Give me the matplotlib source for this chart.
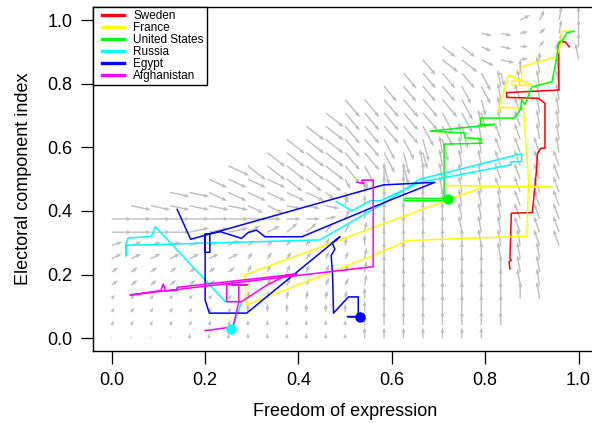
import numpy as np
import matplotlib
matplotlib.use('Agg')
import matplotlib.pyplot as plt
from matplotlib.lines import Line2D
from matplotlib.legend_handler import HandlerLine2D

plt.rcParams['font.family'] = ['Liberation Sans', 'DejaVu Sans']

countries = ['Sweden', 'France', 'United States', 'Russia', 'Egypt', 'Afghanistan']
colors = ['#ff0000', '#ffff00', '#00ff00', '#00ffff', '#0000ff', '#ff00ff']

# country paths (freedom of expression, electoral component)
sweden_x = [0.853, 0.851, 0.856, 0.853, 0.856, 0.901, 0.910, 0.912, 0.919, 0.928, 0.928, 0.914, 0.846, 0.846, 0.958, 0.957, 0.971, 0.980]
sweden_y = [0.218, 0.240, 0.245, 0.250, 0.393, 0.395, 0.529, 0.580, 0.597, 0.597, 0.738, 0.754, 0.757, 0.772, 0.780, 0.929, 0.932, 0.916]

france_x = [0.718, 0.943, 0.796, 0.285, 0.289, 0.553, 0.633, 0.889, 0.893, 0.882, 0.830, 0.826, 0.850, 0.878, 0.857, 0.857, 0.900, 0.878, 0.878, 0.953, 0.963, 0.963, 0.985]
france_y = [0.480, 0.476, 0.476, 0.199, 0.105, 0.256, 0.307, 0.321, 0.497, 0.723, 0.726, 0.710, 0.827, 0.808, 0.808, 0.795, 0.795, 0.810, 0.853, 0.885, 0.930, 0.965, 0.965]

usa_x = [0.721, 0.628, 0.628, 0.712, 0.712, 0.793, 0.790, 0.757, 0.757, 0.682, 0.820, 0.790, 0.790, 0.862, 0.876, 0.878, 0.885, 0.900, 0.943, 0.953, 0.957, 0.965, 0.975, 0.990]
usa_y = [0.439, 0.440, 0.432, 0.432, 0.610, 0.613, 0.627, 0.630, 0.645, 0.651, 0.672, 0.672, 0.692, 0.692, 0.720, 0.750, 0.735, 0.790, 0.806, 0.880, 0.930, 0.935, 0.960, 0.965]

russia_x = [0.255, 0.265, 0.278, 0.243, 0.093, 0.085, 0.035, 0.030, 0.030, 0.032, 0.446, 0.589, 0.660, 0.878, 0.878, 0.855, 0.855, 0.660, 0.575, 0.553, 0.514, 0.482]
russia_y = [0.028, 0.060, 0.115, 0.115, 0.351, 0.320, 0.315, 0.295, 0.258, 0.292, 0.309, 0.430, 0.500, 0.580, 0.555, 0.555, 0.545, 0.490, 0.432, 0.432, 0.400, 0.429]

egypt_x = [0.532, 0.505, 0.528, 0.528, 0.507, 0.475, 0.473, 0.470, 0.478, 0.472, 0.489, 0.289, 0.209, 0.200, 0.200, 0.210, 0.210, 0.200, 0.200, 0.232, 0.278, 0.292, 0.310, 0.328, 0.407, 0.596, 0.692, 0.582, 0.169, 0.140]
egypt_y = [0.068, 0.068, 0.068, 0.130, 0.130, 0.079, 0.200, 0.260, 0.280, 0.300, 0.319, 0.079, 0.079, 0.120, 0.328, 0.328, 0.270, 0.270, 0.326, 0.335, 0.314, 0.332, 0.340, 0.319, 0.319, 0.434, 0.490, 0.482, 0.311, 0.405]

afghan_x = [0.200, 0.260, 0.272, 0.272, 0.256, 0.290, 0.272, 0.246, 0.246, 0.278, 0.332, 0.375, 0.396, 0.140, 0.140, 0.115, 0.110, 0.105, 0.039, 0.560, 0.560, 0.535, 0.540, 0.525]
afghan_y = [0.024, 0.036, 0.115, 0.168, 0.168, 0.168, 0.168, 0.170, 0.115, 0.115, 0.167, 0.199, 0.202, 0.160, 0.150, 0.150, 0.170, 0.150, 0.136, 0.225, 0.497, 0.497, 0.486, 0.490]

paths_x = [sweden_x, france_x, usa_x, russia_x, egypt_x, afghan_x]
paths_y = [sweden_y, france_y, usa_y, russia_y, egypt_y, afghan_y]
dot_countries = ['United States', 'Russia', 'Egypt']

# vector field on a 25 x 25 grid, rows from top (y = 1) to bottom (y = 0).
# run-length strings: "21.mkKN" = 21 empty cells then m, k, K, N
# angle letters are screen directions in degrees, length letters are pixels
angle_codes = {'E': 0, 'e': -12, 's': -25, 'S': -38, 'D': -50, 'V': -62, 'v': -75,
               'n': 12, 'p': 19, 'm': 27, 'z': 35, 'q': 41, 'y': 47, 'Q': 55,
               'k': 65, 'K': 80, 'N': 90, 'l': 100, 'L': 110}
length_codes = {'a': 2, 'b': 5, 'c': 8, 'd': 11, 'e': 14, 'f': 17, 'g': 20, 'h': 23}
field_angle = [
    '21.mkKN',
    '19.eenqKN',
    '17.SSseEQKN',
    '16.DSSsenNll',
    '15.4DVvN2l.',
    '14.4D2V4l.',
    '12.6DVvlL2l.',
    '11.S5D2VvlL2l.',
    '10.2S4D2Vv2lL2l.',
    '9.3S2D2V2v2l2L2l.',
    '8.4S2DV2v3l3Ll.',
    '6.s5SDV2v4l4L.',
    '5.4s3SVv3N3l4L.',
    '3.2e6sSv4N3l4L.',
    '.6e2s3eK5N3l3L.',
    '11EnkK4N3l3L.',
    '4E3n2m2qQkK4N3l3L.',
    '6pm2q2QkK6N3l2L.',
    '7m4Q2kK6N3l2.',
    '7z6kK7N2l2.',
    '7q6kK7N2l2.',
    '7y6K9Nl2.',
    '7Q14N4.',
    '7k14N4.',
    '20N5.',
]
field_length = [
    '21.2d2e',
    '19.2d2c2e',
    '17.2f2d2c2e',
    '16.3g2e2c2f',
    '15.5g2e2f.',
    '14.6g4f.',
    '12.7h5f.',
    '11.8h5f.',
    '10.9h5f.',
    '9.9h6f.',
    '8.8h8f.',
    '6.7h3g8f.',
    '5.7g2d10f.',
    '3.8g3d10f.',
    '.6g2f3e2d10f.',
    '8g3e3d10f.',
    '7g4e3d10f.',
    '7d6cd10f.',
    '7d6cd9f2.',
    '13cd9f2.',
    '7c6cd9f2.',
    '7b6cd9f2.',
    '7b6cd7f4.',
    '7b6bd7e4.',
    '4a9b7d5.',
]


def expand(s):
    out, n = '', ''
    for ch in s:
        if ch.isdigit():
            n += ch
        else:
            out += ch * int(n or 1)
            n = ''
    return (out + '.' * 25)[:25]


fig = plt.figure(figsize=(5.92, 4.23), dpi=100)
ax = fig.add_axes([0.1573, 0.1702, 0.8515, 0.8125])
ax.set_xlim(-0.04, 1.04)
ax.set_ylim(-0.04, 1.04)

px_x = 0.8515 * 592 / 1.08
px_y = 0.8125 * 423 / 1.08
gx, gy, gu, gv = [], [], [], []
for r, (arow, lrow) in enumerate(zip(field_angle, field_length)):
    arow, lrow = expand(arow), expand(lrow)
    j = 24 - r
    for i in range(25):
        if arow[i] == '.' or lrow[i] == '.':
            continue
        a = np.radians(angle_codes[arow[i]])
        L = length_codes[lrow[i]]
        gx.append(i / 24)
        gy.append(j / 24)
        gu.append(L * np.cos(a) / px_x)
        gv.append(L * np.sin(a) / px_y)
ax.quiver(gx, gy, gu, gv, angles='xy', scale_units='xy', scale=1, color='#bebebe',
          units='dots', width=1.4, headwidth=3, headlength=4, headaxislength=3.5, zorder=1)

for name, c, xs, ys in zip(countries, colors, paths_x, paths_y):
    ax.plot(xs, ys, color=c, lw=1.1, zorder=3)
    if name in dot_countries:
        ax.plot(xs[0], ys[0], 'o', color=c, ms=6.5, zorder=4)

ticks = [0, 0.2, 0.4, 0.6, 0.8, 1.0]
tick_labels = ['0.0', '0.2', '0.4', '0.6', '0.8', '1.0']
ax.set_xticks(ticks)
ax.set_yticks(ticks)
ax.set_xticklabels(tick_labels)
ax.set_yticklabels(tick_labels)
ax.tick_params(length=9, width=0.9, labelsize=13, pad=6)
for s in ax.spines.values():
    s.set_linewidth(1.0)
ax.set_xlabel('Freedom of expression', fontsize=13, labelpad=10)
ax.set_ylabel('Electoral component index', fontsize=13, labelpad=11)

handles = [Line2D([], [], color=c, lw=2.4) for c in colors]
leg = ax.legend(handles, countries, loc='upper left', bbox_to_anchor=(0, 1), borderaxespad=0,
                fontsize=8.5, fancybox=False, edgecolor='black', framealpha=1,
                handlelength=2.4, handletextpad=0.75, labelspacing=0.0, borderpad=0.25,
                handler_map={Line2D: HandlerLine2D(xpad=0.5)})
leg.get_frame().set_linewidth(1.0)

fig.savefig('out.png', dpi=100)
